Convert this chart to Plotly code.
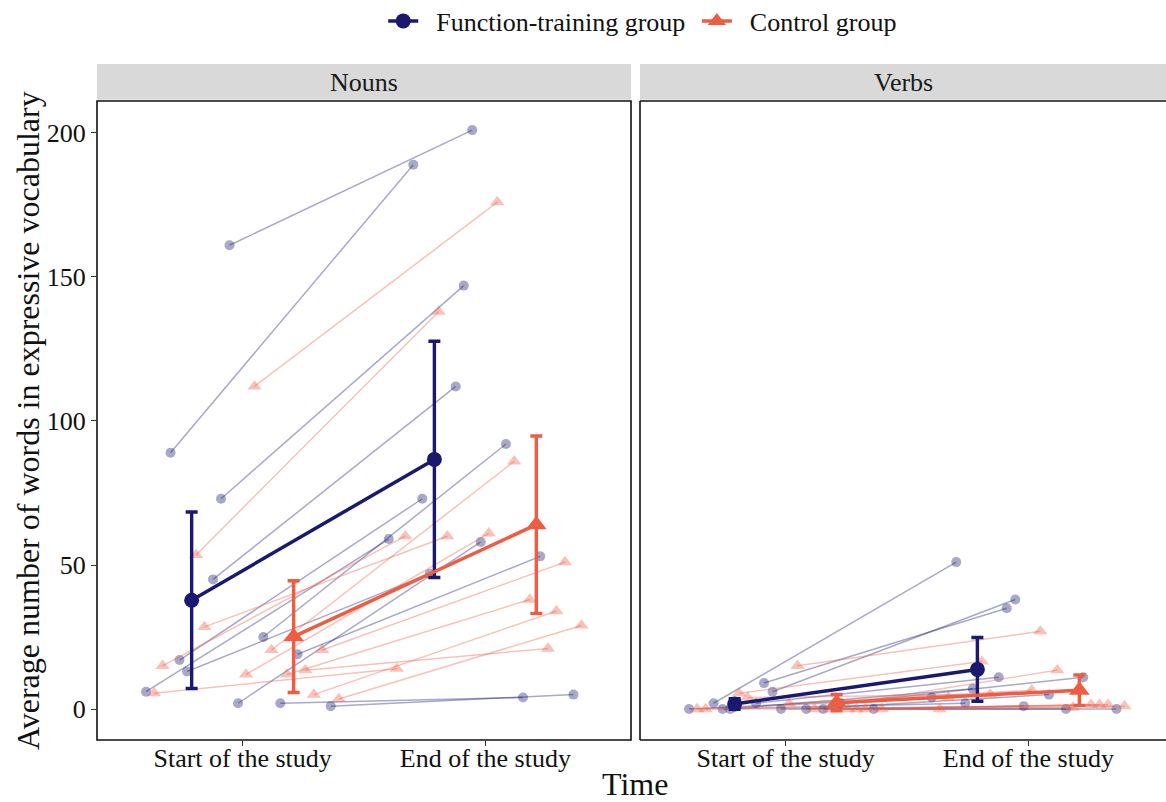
import numpy as np
import plotly.graph_objects as go

# ---------------- data ----------------
time_labels = ["Start of the study", "End of the study"]
panels = ["Nouns", "Verbs"]
groups = ["Function-training group", "Control group"]

# Function-training group (12 children)
fn_nouns_start = [161, 89, 73, 45, 25, 19, 17, 13, 6, 2, 2, 1]
fn_nouns_end = [201, 189, 147, 112, 92, 53, 73, 47, 59, 58, 4, 5]
fn_verbs_start = [6, 2, 9, 2, 0, 2, 0, 0, 0, 0, 0, 0]
fn_verbs_end = [38, 51, 35, 11, 5, 11, 2, 7, 4, 1, 0, 0]
fn_jitter = [-0.054, -0.297, -0.089, -0.122, 0.085, 0.226, -0.260, -0.229, -0.398, -0.019, 0.155, 0.363]

# Control group (12 children)
ct_nouns_start = [112, 53.5, 28.5, 15, 5.5, 20.5, 12, 12, 13.5, 20.5, 5, 3.5]
ct_nouns_end = [176, 138, 60, 60, 14, 86, 61, 38, 21, 51, 34, 29]
ct_verbs_start = [15, 5.5, 4, 0, 0, 0, 2, 0, 0, 0, 0, 0]
ct_verbs_end = [27, 16.5, 5, 4, 0, 13.5, 6.5, 0.5, 1.5, 1.5, 1.5, 1]
ct_jitter = [0.049, -0.192, -0.157, -0.330, -0.365, 0.119, 0.014, 0.183, 0.258, 0.328, 0.293, 0.396]

T_CRIT = 2.200985  # t quantile (0.975, df = 11) for 95% CI of the mean

y_ticks = [0, 50, 100, 150, 200]

# ---------------- styling ----------------
FONT = "Liberation Serif"
NAVY = "#191970"
RED = "#EE5C42"
NAVY_A = "rgba(25,25,112,0.38)"
RED_A = "rgba(238,92,66,0.38)"
BORDER = "#111111"
DODGE = 0.21
NB = "\u00a0"

W, H = 1166, 802
ML, MR, MT, MB = 97, 0, 64, 62
PW = W - ML - MR
PH = H - MT - MB
panel_top = 101
ydom_top = (H - MB - panel_top) / PH

px_per_unit = 534 / 2.2
x1_dom = [0, 534 / PW]
x2_dom = [543 / PW, 1]
x2_range = [0.4, 0.4 + (PW - 543) / px_per_unit]

fig = go.Figure()

data = {
    ("Nouns", 0): (fn_nouns_start, fn_nouns_end, fn_jitter),
    ("Nouns", 1): (ct_nouns_start, ct_nouns_end, ct_jitter),
    ("Verbs", 0): (fn_verbs_start, fn_verbs_end, fn_jitter),
    ("Verbs", 1): (ct_verbs_start, ct_verbs_end, ct_jitter),
}
axes = {"Nouns": ("x", "y"), "Verbs": ("x2", "y2")}
g_style = {
    0: dict(col=NAVY, col_a=NAVY_A, sym="circle", ind_size=10, mean_size=15, off=-DODGE),
    1: dict(col=RED, col_a=RED_A, sym="triangle-up", ind_size=12.5, mean_size=18, off=DODGE),
}

# individual trajectories
for p in panels:
    xa, ya = axes[p]
    for g in (0, 1):
        s, e, jit = data[(p, g)]
        st = g_style[g]
        for a, b, j in zip(s, e, jit):
            fig.add_trace(go.Scatter(
                x=[1 + j, 2 + j], y=[a, b], xaxis=xa, yaxis=ya,
                mode="lines+markers",
                line=dict(color=st["col_a"], width=1.5),
                marker=dict(symbol=st["sym"], size=st["ind_size"], color=st["col_a"],
                            line=dict(width=0)),
                showlegend=False, hoverinfo="skip"))

# group means with 95% CI
legend_names = [NB * 2 + groups[0] + NB, NB * 2 + groups[1]]
for g in (0, 1):
    st = g_style[g]
    for p in panels:
        xa, ya = axes[p]
        s, e, _ = data[(p, g)]
        means, cis = [], []
        for vals in (s, e):
            v = np.array(vals, dtype=float)
            means.append(v.mean())
            cis.append(T_CRIT * v.std(ddof=1) / np.sqrt(len(v)))
        fig.add_trace(go.Scatter(
            x=[1 + st["off"], 2 + st["off"]], y=means, xaxis=xa, yaxis=ya,
            mode="lines+markers", name=legend_names[g], legendgroup=groups[g],
            showlegend=(p == "Nouns"),
            line=dict(color=st["col"], width=3.5),
            marker=dict(symbol=st["sym"], size=st["mean_size"], color=st["col"]),
            error_y=dict(type="data", array=cis, color=st["col"], thickness=3.4, width=6),
            hoverinfo="skip"))

axis_common = dict(
    tickmode="array", tickvals=[1, 2], ticktext=time_labels,
    ticks="outside", ticklen=5, tickwidth=1.2, tickcolor="#333333",
    tickfont=dict(family=FONT, size=26, color="#111111"),
    ticklabelstandoff=-10,
    showgrid=False, zeroline=False, showline=False, automargin=False,
)
fig.update_layout(
    width=W, height=H,
    margin=dict(l=ML, r=MR, t=MT, b=MB, pad=0, autoexpand=False),
    paper_bgcolor="white", plot_bgcolor="white",
    font=dict(family=FONT, color="#111111"),
    xaxis=dict(domain=x1_dom, range=[0.4, 2.6], anchor="y", **axis_common),
    xaxis2=dict(domain=x2_dom, range=x2_range, anchor="y2", **axis_common),
    yaxis=dict(domain=[0, ydom_top], range=[-10.76, 211.1], anchor="x", automargin=False,
               tickmode="array", tickvals=y_ticks, ticktext=[str(t) for t in y_ticks],
               ticks="outside", ticklen=5, tickwidth=1.2, tickcolor="#333333",
               tickfont=dict(family=FONT, size=26, color="#111111"),
               showgrid=False, zeroline=False, showline=False),
    yaxis2=dict(domain=[0, ydom_top], range=[-10.76, 211.1], anchor="x2", matches="y",
                automargin=False, showticklabels=False, ticks="", showgrid=False,
                zeroline=False, showline=False),
    legend=dict(orientation="h", x=0.5105, xanchor="center", y=1 + (MT - 21) / PH,
                yanchor="middle", font=dict(family=FONT, size=26, color="#111111"),
                bgcolor="rgba(0,0,0,0)", itemwidth=30),
    showlegend=True,
)

# panel borders (the verbs panel runs past the right edge of the picture)
fig.add_shape(type="rect", xref="x domain", yref="y domain", x0=0, x1=1, y0=0, y1=1,
              line=dict(color=BORDER, width=1.6), fillcolor="rgba(0,0,0,0)", layer="above")
for (x0, y0, x1, y1) in ((0, 0, 0, 1), (0, 1, 1.02, 1), (0, 0, 1.02, 0)):
    fig.add_shape(type="line", xref="x2 domain", yref="y2 domain", x0=x0, x1=x1, y0=y0, y1=y1,
                  line=dict(color=BORDER, width=1.6), layer="above")

# facet strips
for p, xr in (("Nouns", "x domain"), ("Verbs", "x2 domain")):
    fig.add_shape(type="rect", xref=xr, yref="paper", x0=0, x1=1 if p == "Nouns" else 1.02,
                  y0=ydom_top + 0.002, y1=1,
                  fillcolor="#D9D9D9", line=dict(width=0), layer="below")
    fig.add_annotation(text=p, xref=xr, yref="paper", x=0.5, y=(ydom_top + 1) / 2,
                       showarrow=False, font=dict(family=FONT, size=26, color="#1a1a1a"),
                       xanchor="center", yanchor="middle")

# axis titles
fig.add_annotation(text="Time", xref="paper", yref="paper", x=(635 - ML) / PW,
                   y=(H - MB - 784) / PH, showarrow=False, xanchor="center", yanchor="middle",
                   font=dict(family=FONT, size=32, color="#111111"))
fig.add_annotation(text="Average number of words in expressive vocabulary", xref="paper",
                   yref="paper", x=(28 - ML) / PW, y=(H - MB - 421) / PH, textangle=-90,
                   showarrow=False, xanchor="center", yanchor="middle",
                   font=dict(family=FONT, size=32, color="#111111"))

fig.write_html(
    "out.html",
    config={"displayModeBar": False},
    post_script="document.body.style.margin='0px';document.body.style.overflow='hidden';",
)
